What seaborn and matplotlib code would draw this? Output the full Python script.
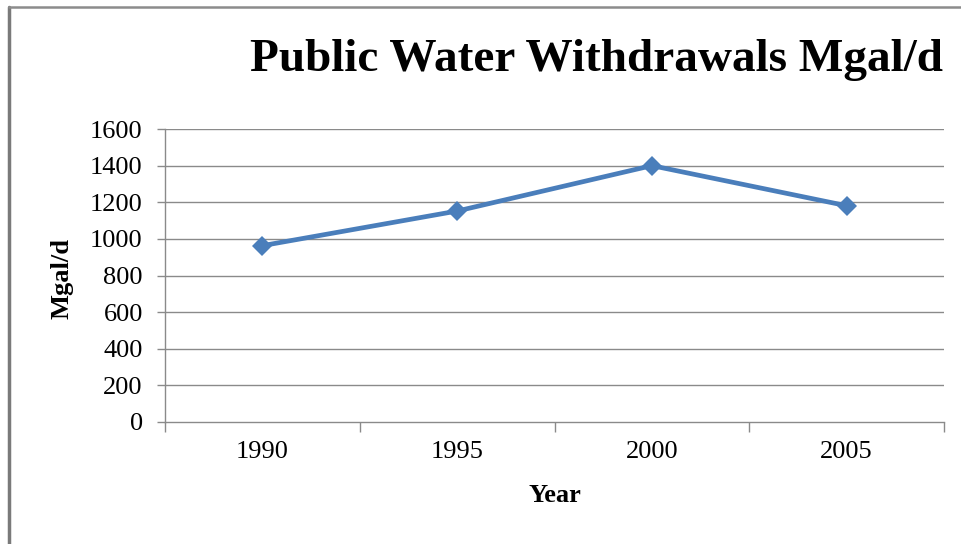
import matplotlib
matplotlib.use("Agg")
import matplotlib.pyplot as plt
from matplotlib.lines import Line2D
from matplotlib.ticker import FixedLocator
import seaborn as sns
import pandas as pd

years = ["1990", "1995", "2000", "2005"]
withdrawals = [963, 1152, 1400, 1181]
y_ticks = [0, 200, 400, 600, 800, 1000, 1200, 1400, 1600]

title = "Public Water Withdrawals Mgal/d"
x_label = "Year"
y_label = "Mgal/d"

sns.set_theme(style="white")
plt.rcParams["font.family"] = ["Liberation Serif", "DejaVu Serif"]
plt.rcParams["text.color"] = "black"
plt.rcParams["axes.labelcolor"] = "black"

df = pd.DataFrame({"Year": years, "Mgal/d": withdrawals})

fig = plt.figure(figsize=(9.61, 5.44), dpi=100)
ax = fig.add_axes([165 / 961, 1 - 422 / 544, (944 - 165) / 961, (422 - 129) / 544])

grid_c = "#8a8a8a"
sns.lineplot(data=df, x="Year", y="Mgal/d", ax=ax, sort=False,
             color="#4A7EBB", linewidth=3.4, marker="D", markersize=10.5,
             markeredgewidth=0, zorder=5)

ax.set_ylim(0, 1600)
ax.set_yticks(y_ticks)
ax.set_yticklabels([str(v) for v in y_ticks])
ax.set_xlim(-0.5, len(years) - 0.5)
ax.set_xticks(range(len(years)))
ax.set_xticklabels(years)
ax.xaxis.set_minor_locator(FixedLocator([i - 0.5 for i in range(len(years) + 1)]))

ax.grid(False)
for v in y_ticks[1:]:
    ax.axhline(v, color=grid_c, linewidth=1.0, zorder=1)

for s in ["top", "right"]:
    ax.spines[s].set_visible(False)
for s in ["left", "bottom"]:
    ax.spines[s].set_color(grid_c)
    ax.spines[s].set_linewidth(1.0)

ax.tick_params(axis="y", which="major", direction="out", length=6, width=1,
               color=grid_c, pad=10, labelsize=19, labelcolor="black", left=True)
ax.tick_params(axis="x", which="major", length=0, pad=14, labelsize=19,
               labelcolor="black", bottom=True)
ax.tick_params(axis="x", which="minor", direction="out", length=7, width=1,
               color=grid_c, bottom=True)

ax.set_xlabel(x_label, fontsize=19, fontweight="bold", va="center", color="black")
ax.set_ylabel(y_label, fontsize=19, fontweight="bold", va="center", color="black")
ax.xaxis.set_label_coords(0.5, (422 - 496) / 293)
ax.yaxis.set_label_coords((62 - 165) / 779, 0.49)

fig.text(597 / 961, 1 - 60 / 544, title, fontsize=34, fontweight="bold",
         ha="center", va="center", color="black")

# outer chart frame (left and top edges)
fig.add_artist(Line2D([9 / 961, 9 / 961], [0, 1 - 7 / 544],
                      transform=fig.transFigure, color="#7a7a7a", linewidth=2.5))
fig.add_artist(Line2D([9 / 961, 1], [1 - 7 / 544, 1 - 7 / 544],
                      transform=fig.transFigure, color="#8c8c8c", linewidth=1.8))

fig.savefig("out.png", dpi=100)
